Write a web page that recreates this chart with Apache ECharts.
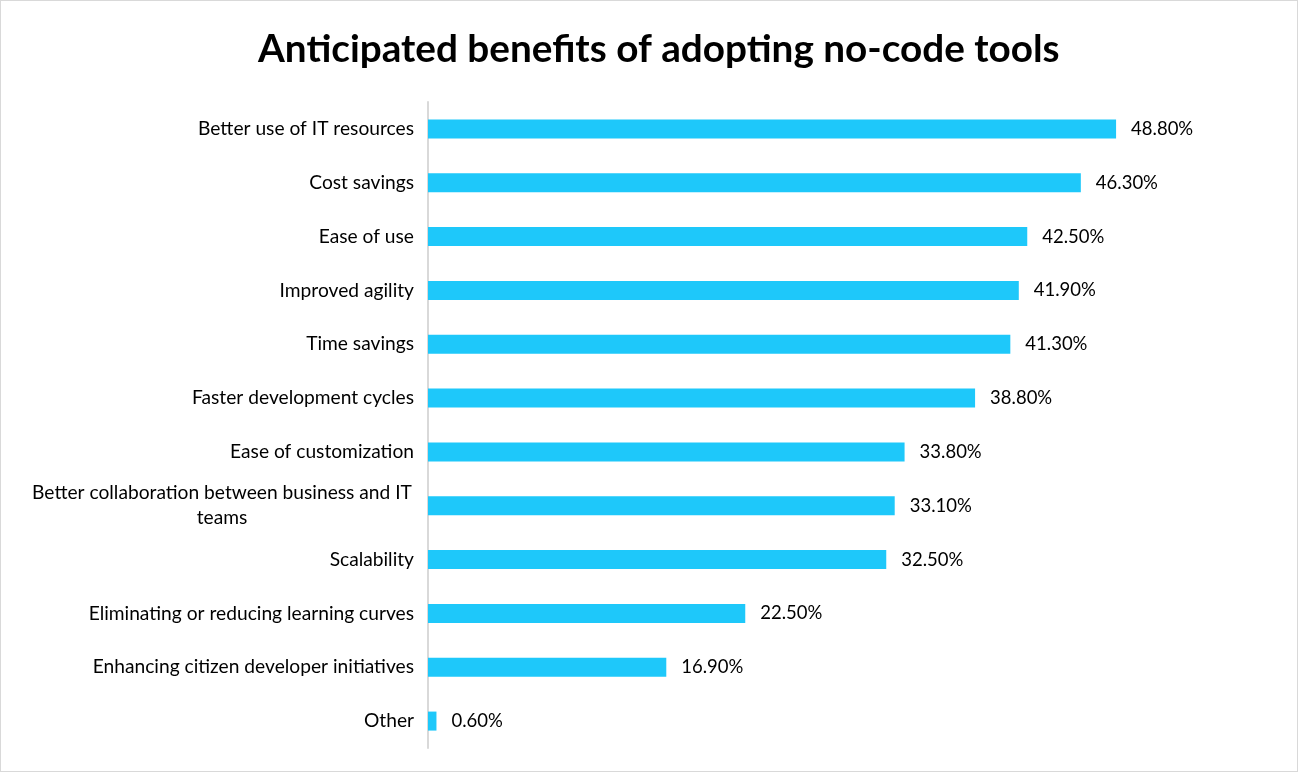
<!DOCTYPE html>
<html>
<head>
<meta charset="utf-8">
<script src="https://cdn.jsdelivr.net/npm/echarts@6/dist/echarts.min.js"></script>
<style>
html,body{margin:0;padding:0;background:#fff;}
#wrap{position:absolute;left:0;top:0;width:1296px;height:770px;border:1px solid #d9d9d9;}
#chart{width:1298px;height:773px;position:absolute;left:0;top:0;}
</style>
</head>
<body>
<div id="wrap"></div>
<div id="chart"></div>
<script>
const titleText = 'Anticipated benefits of adopting no-code tools';
const categories = [
  'Better use of IT resources',
  'Cost savings',
  'Ease of use',
  'Improved agility',
  'Time savings',
  'Faster development cycles',
  'Ease of customization',
  'Better collaboration between business and IT teams',
  'Scalability',
  'Eliminating or reducing learning curves',
  'Enhancing citizen developer initiatives',
  'Other'
];
const values = [48.8, 46.3, 42.5, 41.9, 41.3, 38.8, 33.8, 33.1, 32.5, 22.5, 16.9, 0.6];

const chart = echarts.init(document.getElementById('chart'), null, {renderer: 'canvas'});
const font = 'Lato, sans-serif';
chart.setOption({
  backgroundColor: 'transparent',
  animation: false,
  title: {
    text: titleText,
    left: 253,
    top: 25,
    textStyle: {fontFamily: font, fontSize: 38.7, fontWeight: 'bold', color: '#000'}
  },
  grid: {left: 428, right: 165, top: 102, bottom: 25, containLabel: false},
  xAxis: {
    type: 'value', min: 0, max: 50,
    show: false
  },
  yAxis: {
    type: 'category',
    data: categories,
    inverse: true,
    axisLine: {show: true, lineStyle: {color: '#d9d9d9', width: 2}},
    axisTick: {show: false},
    splitLine: {show: false},
    axisLabel: {
      fontFamily: font, fontSize: 19.2, color: '#000', margin: 14, align: 'right',
      lineHeight: 25,
      formatter: function (v) {
        if (v.length > 45) {
          const idx = v.lastIndexOf(' ', 45);
          return '{c|' + v.slice(0, idx) + '}\n{c|' + v.slice(idx + 1) + '}';
        }
        return v;
      },
      rich: {
        c: {width: 384, align: 'center', fontFamily: font, fontSize: 19.2, color: '#000', lineHeight: 25}
      }
    }
  },
  series: [{
    type: 'bar',
    data: values,
    barWidth: 19,
    itemStyle: {color: '#1ec8fa'},
    label: {
      show: true, position: 'right', distance: 15,
      fontFamily: font, fontSize: 18.5, color: '#000',
      formatter: p => p.value.toFixed(2) + '%'
    }
  }]
});
</script>
</body>
</html>
